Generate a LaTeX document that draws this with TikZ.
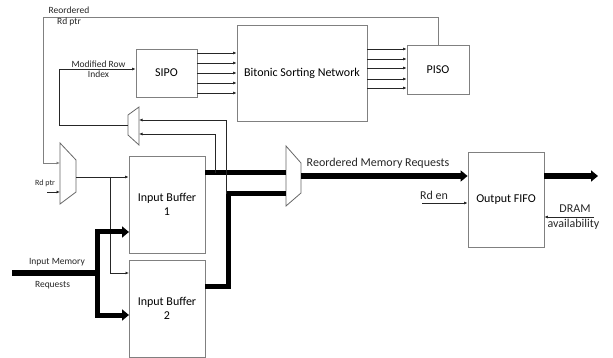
\documentclass[tikz,border=0pt]{standalone}
\usepackage{fontspec}
\setmainfont{Carlito}
\usetikzlibrary{arrows.meta}

\begin{document}
\begin{tikzpicture}[x=1pt,y=-1pt,
  blk/.style={draw=gray, line width=0.8pt, font=\fontsize{12}{14.5}\selectfont, align=center},
  sig/.style={draw=black!85, line width=0.7pt, -{Latex[length=3.5pt,width=3pt]}},
  bus/.style={draw=black, line width=5pt, line join=miter},
  busarr/.style={bus, -{Triangle[length=7pt,width=11pt]}},
  mux/.style={draw=gray!80!black, line width=0.8pt},
  small/.style={font=\fontsize{9.5}{12}\selectfont, text=black!85, inner sep=0pt},
  big/.style={font=\fontsize{12}{14}\selectfont, text=black!85, inner sep=0pt}]
\useasboundingbox (0,0) rectangle (613,358);

%% blocks
\node [blk, minimum width=61pt, minimum height=48pt] (sipo) at (166.5,73) {SIPO};
\node [blk, minimum width=130pt, minimum height=96pt] (bsn) at (302,73) {Bitonic Sorting Network};
\node [blk, minimum width=62pt, minimum height=49pt] (piso) at (438,69.5) {PISO};
\node [blk, minimum width=76pt, minimum height=97pt] (buf1) at (167,204.5) {Input Buffer\\1};
\node [blk, minimum width=76pt, minimum height=97pt] (buf2) at (167,308.5) {Input Buffer\\2};
\node [blk, minimum width=76pt, minimum height=95pt] (fifo) at (506,199.5) {Output FIFO};

%% muxes
\draw [mux] (60,143) -- (76,160) -- (76,192) -- (60,204) -- cycle;
\draw [mux] (139,107) -- (128,115) -- (128,135) -- (139,145) -- cycle;
\draw [mux] (286,146) -- (301,163) -- (301,193) -- (286,206) -- cycle;
\coordinate (m1a) at (60,163);
\coordinate (m1b) at (60,192);
\coordinate (m1o) at (76,177);
\coordinate (m2a) at (139,120);
\coordinate (m2b) at (139,134);
\coordinate (m2o) at (128,125);
\coordinate (m3a) at (286,173);
\coordinate (m3b) at (286,194);
\coordinate (m3o) at (301,176);

%% sipo -> sorter -> piso
\foreach \y in {53,63,73,83,93}
  \draw [sig] (sipo.east |- 0,\y) -- (bsn.west |- 0,\y);
\foreach \y in {49,59,68,79,88}
  \draw [sig] (bsn.east |- 0,\y) -- (piso.west |- 0,\y);

%% reordered read pointer
\coordinate (rdtop) at (43,17);
\draw [sig, draw=gray] (piso.north) |- (rdtop) |- (m1a);
\node [small, align=center] (rdlbl) at (69,16) {Reordered\\[-1pt]Rd ptr};
\coordinate (rdin) at (47,192);
\draw [sig] (rdin) -- (m1b);
\node [font=\fontsize{8}{10}\selectfont, text=black!85, inner sep=0pt] (rdptr) at (45,183.5) {Rd ptr};

%% read pointer to the buffers
\coordinate (br) at (110,177);
\coordinate (b2rd) at (129,273);
\draw [sig] (m1o) -- (m1o -| buf1.west);
\draw [sig] (br) |- (b2rd);

%% input requests
\coordinate (inmem) at (12,273);
\coordinate (fork) at (97,273);
\coordinate (b1in) at (129,232);
\coordinate (b2in) at (129,315);
\draw [bus, line width=6pt] (inmem) -- (fork);
\draw [busarr] (fork) |- (b1in);
\draw [busarr] (fork) |- (b2in);
\node [small] (inlbl1) at (57,262) {Input Memory};
\node [small] (inlbl2) at (52.5,285) {Requests};

%% buffers -> output mux
\coordinate (b1out) at (205,173);
\coordinate (b2out) at (205,286);
\draw [bus] (b1out) -- (m3a);
\draw [bus] (b2out) -| (228,194) -- (m3b);

%% feedback to row mux
\coordinate (fb1) at (215,173);
\coordinate (fb2) at (226,194);
\draw [sig] (fb1) |- (m2b);
\draw [sig] (fb2) |- (m2a);
\coordinate (rowtop) at (59,69);
\draw [sig] (m2o) -| (rowtop) -- (sipo.west |- rowtop);
\node [small, align=center] (rowlbl) at (98.5,69) {Modified Row\\[-1.5pt]Index};

%% output side
\draw [busarr, line width=5.5pt] (m3o) -- (fifo.west |- m3o);
\node [big] (reqlbl) at (378,163) {Reordered Memory Requests};
\coordinate (dout) at (598,176);
\draw [busarr, line width=5.5pt] (fifo.east |- m3o) -- (dout);
\coordinate (rden) at (422,203);
\draw [sig] (rden) -- (fifo.west |- rden);
\node [big] (rdenlbl) at (434,195.5) {Rd en};
\coordinate (dram) at (594,217);
\draw [sig] (dram) -- (fifo.east |- dram);
\node [big] (dramlbl) at (575,208.5) {DRAM};
\node [big] (avlbl) at (573.5,224.5) {availability};
\end{tikzpicture}
\end{document}
